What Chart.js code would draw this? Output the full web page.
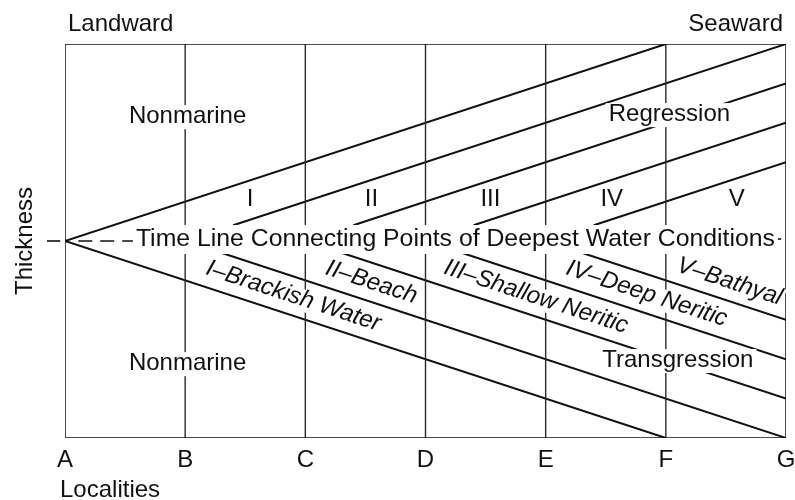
<!DOCTYPE html>
<html>
<head>
<meta charset="utf-8">
<script src="https://cdn.jsdelivr.net/npm/chart.js@4.4.0/dist/chart.umd.min.js"></script>
<style>
  html, body { margin: 0; padding: 0; background: #fff; }
  #wrap { width: 795px; height: 500px; }
</style>
</head>
<body>
<div id="wrap"><canvas id="faciesChart" width="795" height="500"></canvas></div>
<script>
// --- DATA ---
const localities = ['A', 'B', 'C', 'D', 'E', 'F', 'G'];
const localityX = [0, 1, 2, 3, 4, 5, 6];
const thicknessMin = 0;
const thicknessMax = 10;
const deepestWaterY = 5;

// regressive (upper) time lines
const regressionStartX = [0, 1.4, 2.4, 3.4, 4.4];
const regressionStartY = [5, 5.4, 5.4, 5.4, 5.4];
const regressionEndX = [5, 6, 6, 6, 6];
const regressionEndY = [10, 10, 9, 8, 7];

// transgressive (lower) time lines
const transgressionStartX = [0, 1.3, 2.3, 3.3, 4.3];
const transgressionStartY = [5, 4.7, 4.7, 4.7, 4.7];
const transgressionEndX = [5, 6, 6, 6, 6];
const transgressionEndY = [0, 0, 1, 2, 3];

const stageNumerals = ['I', 'II', 'III', 'IV', 'V'];
const stageX = [1.54, 2.55, 3.54, 4.55, 5.59];
const stageY = 6.05;

const faciesLabels = ['I–Brackish Water', 'II–Beach', 'III–Shallow Neritic', 'IV–Deep Neritic', 'V–Bathyal'];
const faciesX = [1.90, 2.55, 3.92, 4.84, 5.53];
const faciesY = [3.60, 3.95, 3.58, 3.66, 3.97];

const areaLabels = ['Nonmarine', 'Nonmarine', 'Regression', 'Transgression'];
const areaX = [1.02, 1.02, 5.03, 5.10];
const areaY = [8.17, 1.90, 8.22, 1.98];

const timeLineText = 'Time Line Connecting Points of Deepest Water Conditions';

document.addEventListener('DOMContentLoaded', function() {

    const FONT = "'Liberation Sans', Arial, Helvetica, sans-serif";
    const INK = '#111';

    // --- PART 1: DATASETS ---
    const seg = (x0, y0, x1, y1, width, extra) => Object.assign({
        data: [{x: x0, y: y0}, {x: x1, y: y1}],
        showLine: true,
        borderColor: INK,
        borderWidth: width,
        pointRadius: 0,
        fill: false
    }, extra || {});

    const datasets = [];

    // frame
    datasets.push(seg(localityX[0], thicknessMax, localityX[6], thicknessMax, 1.5));
    datasets.push(seg(localityX[0], thicknessMin, localityX[6], thicknessMin, 1.5));
    datasets.push(seg(localityX[0], thicknessMin, localityX[0], thicknessMax, 1.5));
    datasets.push(seg(localityX[6], thicknessMin, localityX[6], thicknessMax, 1.5));

    // locality verticals
    for (let i = 1; i < localityX.length - 1; i++) {
        datasets.push(seg(localityX[i], thicknessMin, localityX[i], thicknessMax, 1.4, {borderColor: '#2a2a2a'}));
    }

    for (let i = 0; i < regressionStartX.length; i++) {
        datasets.push(seg(regressionStartX[i], regressionStartY[i], regressionEndX[i], regressionEndY[i], 2));
    }
    for (let i = 0; i < transgressionStartX.length; i++) {
        datasets.push(seg(transgressionStartX[i], transgressionStartY[i], transgressionEndX[i], transgressionEndY[i], 2));
    }

    // tick + dashes leading into the time line label
    datasets.push(seg(-0.15, deepestWaterY, -0.04, deepestWaterY, 1.6, {clip: false}));
    datasets.push(seg(0.11, deepestWaterY, 0.57, deepestWaterY, 1.6, {borderDash: [14, 8]}));
    datasets.push(seg(5.92, 5.05, 5.96, 5.05, 1.6));

    // --- PART 2: LABEL PLUGIN ---
    const labelPlugin = {
        id: 'faciesLabels',
        afterDatasetsDraw(chart) {
            const ctx = chart.ctx;
            const xs = chart.scales.x;
            const ys = chart.scales.y;
            const area = chart.chartArea;
            const dx = xs.getPixelForValue(1) - xs.getPixelForValue(0);
            const dy = ys.getPixelForValue(0) - ys.getPixelForValue(1);
            const slope = Math.atan2(dy, dx);

            const drawText = (text, px, py, o) => {
                o = o || {};
                ctx.save();
                ctx.font = (o.italic ? 'italic ' : '') + (o.size || 24) + 'px ' + FONT;
                ctx.textBaseline = 'middle';
                ctx.textAlign = o.align || 'center';
                ctx.translate(px, py);
                if (o.rotate) ctx.rotate(o.rotate);
                const w = ctx.measureText(text).width;
                if (o.box) {
                    let left = -w / 2;
                    if (o.align === 'left') left = 0;
                    if (o.align === 'right') left = -w;
                    ctx.fillStyle = '#fff';
                    ctx.fillRect(left - o.box[0], o.box[1], w + o.box[0] * 2, o.box[2] - o.box[1]);
                }
                ctx.fillStyle = INK;
                ctx.fillText(text, 0, 0);
                ctx.restore();
            };

            // time line label
            drawText(timeLineText, xs.getPixelForValue(0.59), ys.getPixelForValue(5.05),
                {align: 'left', size: 24.8, box: [3, -14, 15]});

            // area labels
            for (let i = 0; i < areaLabels.length; i++) {
                drawText(areaLabels[i], xs.getPixelForValue(areaX[i]), ys.getPixelForValue(areaY[i]),
                    {box: [3, -11, 13]});
            }

            // stage numerals
            for (let i = 0; i < stageNumerals.length; i++) {
                drawText(stageNumerals[i], xs.getPixelForValue(stageX[i]), ys.getPixelForValue(stageY));
            }

            // slanted facies names
            for (let i = 0; i < faciesLabels.length; i++) {
                drawText(faciesLabels[i], xs.getPixelForValue(faciesX[i]), ys.getPixelForValue(faciesY[i]),
                    {italic: true, rotate: slope, box: [2, -10, 12]});
            }

            // locality letters along the bottom
            for (let i = 0; i < localities.length; i++) {
                drawText(localities[i], xs.getPixelForValue(localityX[i]), area.bottom + 22);
            }

            drawText('Localities', area.left - 5, area.bottom + 52, {align: 'left'});
            drawText('Landward', area.left + 3, area.top - 20, {align: 'left'});
            drawText('Seaward', area.right - 3, area.top - 20, {align: 'right'});
            drawText('Thickness', 25, (area.top + area.bottom) / 2, {rotate: -Math.PI / 2});
        }
    };

    // --- PART 3: CHART ---
    const canvas = document.getElementById('faciesChart');
    new Chart(canvas.getContext('2d'), {
        type: 'scatter',
        data: { datasets: datasets },
        options: {
            responsive: false,
            animation: false,
            devicePixelRatio: 1,
            layout: { padding: { left: 65, right: 9, top: 44, bottom: 62 } },
            scales: {
                x: { type: 'linear', min: 0, max: 6, display: false },
                y: { type: 'linear', min: thicknessMin, max: thicknessMax, display: false }
            },
            plugins: {
                legend: { display: false },
                tooltip: { enabled: false }
            }
        },
        plugins: [labelPlugin]
    });
});
</script>
</body>
</html>
